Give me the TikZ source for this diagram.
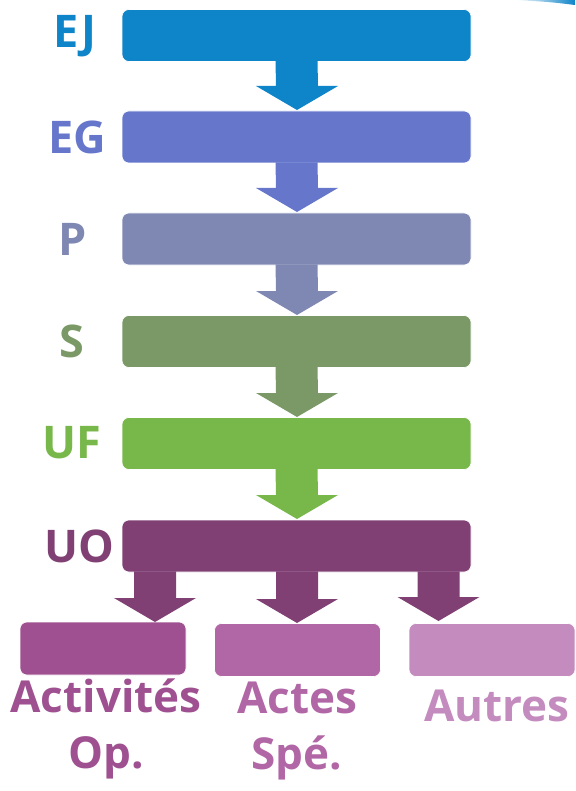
\documentclass[tikz,border=0pt]{standalone}
\usepackage{fontspec}
\setmainfont{Open Sans}
\usetikzlibrary{calc}
\definecolor{cEJ}{HTML}{0E84C9}
\definecolor{cEG}{HTML}{6677CB}
\definecolor{cP}{HTML}{7F88B3}
\definecolor{cS}{HTML}{7A9966}
\definecolor{cUF}{HTML}{78B74A}
\definecolor{cUO}{HTML}{804074}
\definecolor{cA}{HTML}{9E5090}
\definecolor{cB}{HTML}{B166A6}
\definecolor{cC}{HTML}{C48BBE}
\newcommand{\flowarrow}[3]{%
  \fill[#3] ($(#1)+(-21,1)$) -- ($(#2)+(-21,24)$) -- ($(#2)+(-41,24)$) -- (#2) -- ($(#2)+(41,24)$) -- ($(#2)+(21,24)$) -- ($(#1)+(21,1)$) -- cycle;}
\begin{document}
\begin{tikzpicture}[x=1pt,y=1pt,
  bar/.style={rounded corners=7pt, fill=#1, draw=white, line width=0.6pt, minimum width=349pt, minimum height=52pt, inner sep=0pt},
  leaf/.style={rounded corners=7pt, fill=#1, draw=white, line width=0.6pt, minimum width=166pt, minimum height=53pt, inner sep=0pt},
  lab/.style={text=#1, font=\fontsize{45}{52}\selectfont\bfseries, inner sep=0pt},
  blab/.style={text=#1, font=\fontsize{44}{56}\selectfont\bfseries, inner sep=0pt, align=center, anchor=north}]
\useasboundingbox (0,0) rectangle (575,-791);
\shade[left color=white, right color=cEJ] (515,0) .. controls (550,-2) .. (575,-5) -- (575,0) -- cycle;
% bars
\node[bar=cEJ] (EJ) at (296.5,-35.5) {};
\node[bar=cEG] (EG) at (296.5,-137) {};
\node[bar=cP]  (P)  at (296.5,-239) {};
\node[bar=cS]  (S)  at (296.5,-341.5) {};
\node[bar=cUF] (UF) at (296.5,-443.5) {};
\node[bar=cUO] (UO) at (296.5,-546) {};
% leaves
\node[leaf=cA] (LA) at (103,-648.5) {};
\node[leaf=cB] (LB) at (297.5,-650) {};
\node[leaf=cC] (LC) at (492,-650) {};
% arrows
\coordinate (t1) at (297,-110);
\coordinate (t2) at (297,-212);
\coordinate (t3) at (297,-315);
\coordinate (t4) at (297,-417);
\coordinate (t5) at (297,-519);
\flowarrow{EJ.south}{t1}{cEJ}
\flowarrow{EG.south}{t2}{cEG}
\flowarrow{P.south}{t3}{cP}
\flowarrow{S.south}{t4}{cS}
\flowarrow{UF.south}{t5}{cUF}
\coordinate (b1) at (155,-622);
\coordinate (b2) at (297,-623);
\coordinate (b3) at (438.5,-621);
\coordinate (s1) at (b1 |- UO.south);
\coordinate (s2) at (b2 |- UO.south);
\coordinate (s3) at (b3 |- UO.south);
\flowarrow{s1}{b1}{cUO}
\flowarrow{s2}{b2}{cUO}
\flowarrow{s3}{b3}{cUO}
% left labels
\node[lab=cEJ] (lEJ) at (75,-36) {EJ};
\node[lab=cEG] (lEG) at (77,-137) {EG};
\node[lab=cP]  (lP)  at (73,-239) {P};
\node[lab=cS]  (lS)  at (72,-341) {S};
\node[lab=cUF] (lUF) at (72,-443) {UF};
\node[lab=cUO] (lUO) at (79,-546) {UO};
% bottom labels
\node[blab=cA] (tA) at (106,-679) {Activités\\Op.};
\node[blab=cB] (tB) at (297,-682) {Actes\\Spé.};
\node[blab=cC] (tC) at (497,-690) {Autres};
\end{tikzpicture}
\end{document}
